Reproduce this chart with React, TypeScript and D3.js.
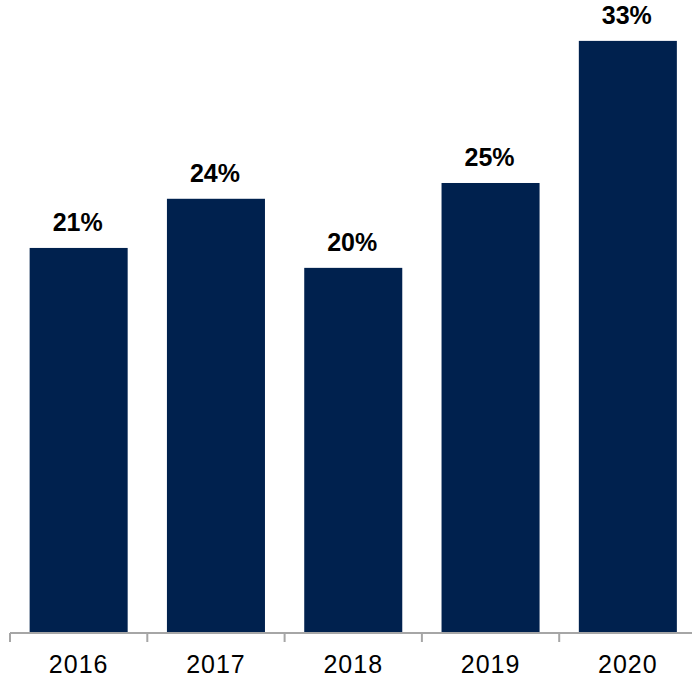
import React from "react";
import * as d3 from "d3";

const years = ["2016", "2017", "2018", "2019", "2020"];
const values = [21.46, 24.2, 20.35, 25.08, 33.0];
const valueLabels = ["21%", "24%", "20%", "25%", "33%"];

const W = 692;
const H = 677;
const BAR = "#00214e";
const AXIS = "#a6a6a6";
const FONT = "'Liberation Sans', Arial, Helvetica, sans-serif";

export default function App() {
  const x = d3
    .scaleBand<string>()
    .domain(years)
    .range([10, 696.5])
    .paddingInner(0.286)
    .paddingOuter(0.143);
  const y = d3.scaleLinear().domain([0, 35]).range([633, 5]);
  const step = x.step();
  const x0 = 10;
  const tickXs = d3.range(years.length + 1).map((i) => x0 + i * step);

  return (
    <svg
      width={W}
      height={H}
      style={{ position: "absolute", left: 0, top: 0, background: "#fff" }}
    >
      {years.map((yr, i) => (
        <rect
          key={yr}
          x={x(yr)!}
          y={y(values[i])}
          width={x.bandwidth()}
          height={y(0) - y(values[i])}
          fill={BAR}
        />
      ))}
      {years.map((yr, i) => (
        <text
          key={"v" + yr}
          x={x(yr)! + x.bandwidth() / 2 - 1}
          y={y(values[i]) - 17}
          textAnchor="middle"
          fontFamily={FONT}
          fontWeight="bold"
          fontSize={25}
          fill="#000"
        >
          {valueLabels[i]}
        </text>
      ))}
      <line x1={x0} x2={tickXs[tickXs.length - 1]} y1={y(0)} y2={y(0)} stroke={AXIS} strokeWidth={2} />
      {tickXs.map((tx, i) => (
        <line key={"t" + i} x1={tx} x2={tx} y1={y(0)} y2={y(0) + 9} stroke={AXIS} strokeWidth={2} />
      ))}
      {years.map((yr) => (
        <text
          key={"l" + yr}
          x={x(yr)! + x.bandwidth() / 2}
          y={673}
          textAnchor="middle"
          fontFamily={FONT}
          fontSize={25}
          letterSpacing={1}
          fill="#000"
        >
          {yr}
        </text>
      ))}
    </svg>
  );
}
